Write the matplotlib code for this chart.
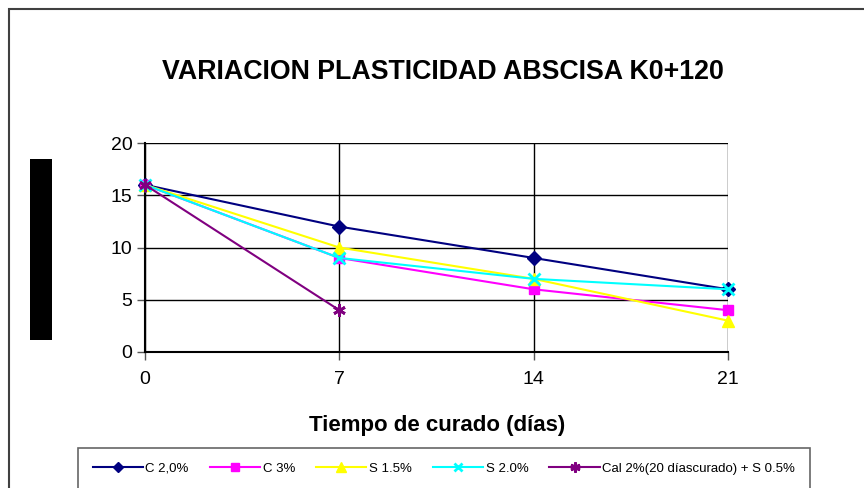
import matplotlib
matplotlib.use("Agg")
import matplotlib.pyplot as plt
from matplotlib.patches import Rectangle

days = [0, 7, 14, 21]
c20 = [16, 12, 9, 6]
c3 = [16, 9, 6, 4]
s15 = [16, 10, 7, 3]
s20 = [16, 9, 7, 6]
cal_days = [0, 7]
cal = [16, 4]

labels = ["C 2,0%", "C 3%", "S 1.5%", "S 2.0%", "Cal 2%(20 díascurado) + S 0.5%"]
title = "VARIACION PLASTICIDAD ABSCISA K0+120"
xlabel = "Tiempo de curado (días)"

plt.rcParams['font.family'] = ['Liberation Sans', 'DejaVu Sans']

fig = plt.figure(figsize=(8.64, 4.88), dpi=100)
W, H = 864, 488
ax = fig.add_axes([145 / W, 1 - 352 / H, (728 - 145) / W, (352 - 143) / H])

kw = dict(lw=1.5, zorder=5, clip_on=False)
ax.plot(days, c20, color="#000080", marker="D", markersize=7, label=labels[0], **kw)
ax.plot(days, c3, color="#FF00FF", marker="s", markersize=7, label=labels[1], **kw)
ax.plot(days, s15, color="#FFFF00", marker="^", markersize=9, label=labels[2], **kw)
ax.plot(days, s20, color="#00FFFF", marker="x", markersize=8, mew=2, label=labels[3], **kw)
ax.plot(cal_days, cal, color="#800080", marker=(6, 2, 0), markersize=9, mew=2, label=labels[4], **kw)

ax.set_xlim(0, 21)
ax.set_ylim(0, 20)
ax.set_xticks(days)
ax.set_yticks([0, 5, 10, 15, 20])
ax.grid(True, color="black", lw=1)
ax.set_axisbelow(True)
for s in ["top", "right"]:
    ax.spines[s].set_visible(False)
for s in ["left", "bottom"]:
    ax.spines[s].set_linewidth(1.5)
ax.tick_params(axis="both", labelsize=14, length=6, width=1, color="#555555")
ax.tick_params(axis="x", pad=8)
ax.tick_params(axis="y", pad=3)

fig.text(443 / W, 1 - 72 / H, title, ha="center", va="center", fontsize=19.3, fontweight="bold")
fig.text(437 / W, 1 - 425 / H, xlabel, ha="center", va="center", fontsize=16, fontweight="bold")

# redacted y label block
fig.patches.append(Rectangle((30 / W, 1 - 340 / H), 22 / W, 181 / H, transform=fig.transFigure,
                             facecolor="black", edgecolor="none"))
# outer border
fig.patches.append(Rectangle((9 / W, -0.05), 1.2, 1.05 - 9 / H, transform=fig.transFigure,
                             facecolor="none", edgecolor="#404040", lw=1.5))

leg = fig.legend(loc="upper left", bbox_to_anchor=(78 / W, 1 - 448 / H), ncol=5, fontsize=9.5,
                 frameon=True, fancybox=False, edgecolor="#404040", handlelength=3.8,
                 columnspacing=1.6, borderpad=1.1, handletextpad=0.2, markerscale=0.8,
                 borderaxespad=0)
leg.get_frame().set_linewidth(1.2)

fig.savefig("out.png", dpi=100)
